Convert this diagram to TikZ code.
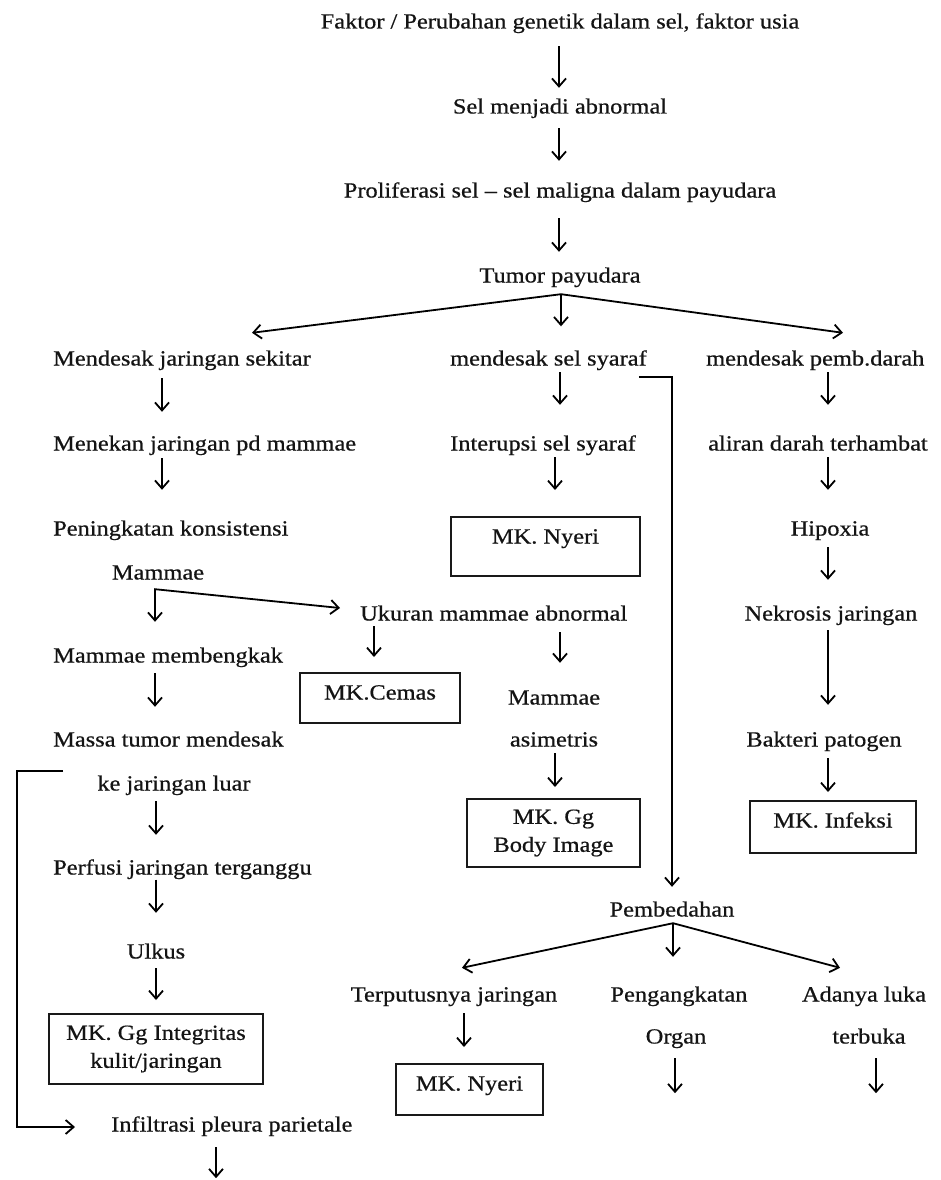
\documentclass[tikz,border=0pt]{standalone}
\usepackage{fontspec}
\setmainfont[FakeStretch=1.13,FakeBold=0.6]{Liberation Serif}
\usetikzlibrary{arrows.meta,calc}
\newcommand{\fsz}{\fontsize{21.6pt}{28pt}\selectfont}
\newcommand{\va}[5]{\draw[arr,shorten <=#4pt,shorten >=#5pt] (#1.south -| #3) -- (#2.north -| #3);}
\begin{document}
\begin{tikzpicture}[x=1pt,y=-1pt,
 txt/.style={inner sep=0pt,text height=14pt,text depth=5pt,font=\fsz,text=black!92},
 box/.style={draw=black!90,line width=2pt,inner sep=0pt,font=\fsz,text=black!92},
 arr/.style={draw=black,line width=1.8pt,-{Straight Barb[length=8pt,width=14pt]}},
 arrboth/.style={draw=black,line width=1.8pt,{Straight Barb[length=8pt,width=14pt]}-{Straight Barb[length=8pt,width=14pt]}},
]
\fill[white] (0,0) rectangle (940,1180);
\useasboundingbox (0,0) rectangle (940,1180);

% column coordinates
\coordinate (xT) at (559,0);
\coordinate (xL) at (162,0);
\coordinate (xL2) at (155,0);
\coordinate (xL3) at (156,0);
\coordinate (xM) at (560,0);
\coordinate (xM2) at (555,0);
\coordinate (xR) at (828,0);
\coordinate (xU) at (374,0);
\coordinate (xS) at (464,0);
\coordinate (xSL) at (252,0);
\coordinate (xSR) at (843,0);

% nodes
\node[txt] (f1) at (560,24) {Faktor / Perubahan genetik dalam sel, faktor usia};
\node[txt] (f2) at (560,109) {Sel menjadi abnormal};
\node[txt] (f3) at (560,193) {Proliferasi sel – sel maligna dalam payudara};
\node[txt] (f4) at (560,278) {Tumor payudara};

\node[txt,anchor=west] (a1) at (53,361) {Mendesak jaringan sekitar};
\node[txt,anchor=west] (b1) at (450,361) {mendesak sel syaraf};
\node[txt,anchor=west] (c1) at (706,361) {mendesak pemb.darah};
\node[txt,anchor=west] (a2) at (53,446) {Menekan jaringan pd mammae};
\node[txt,anchor=west] (b2) at (450,446) {Interupsi sel syaraf};
\node[txt,anchor=west] (c2) at (708,446) {aliran darah terhambat};
\node[txt,anchor=west] (a3) at (53,531) {Peningkatan konsistensi};
\node[box,minimum width=189pt,text height=26.5pt,text depth=32.5pt,anchor=north] (n1) at (545.5,516) {MK. Nyeri};
\node[txt] (c3) at (830,531) {Hipoxia};
\node[txt] (a4) at (158,575) {Mammae};
\node[txt,anchor=west] (b3) at (360,616) {Ukuran mammae abnormal};
\node[txt] (c4) at (831,616) {Nekrosis jaringan};
\node[txt,anchor=west] (a5) at (53,658) {Mammae membengkak};
\node[box,minimum width=160pt,text height=26.5pt,text depth=23.5pt,anchor=north] (n2) at (380,672) {MK.Cemas};
\node[txt] (b4) at (554,700) {Mammae};
\node[txt,anchor=west] (a6) at (53,742) {Massa tumor mendesak};
\node[txt] (b5) at (554,742) {asimetris};
\node[txt] (c5) at (824,742) {Bakteri patogen};
\node[txt] (a7) at (174,786) {ke jaringan luar};
\node[box,align=center,minimum width=173pt,minimum height=68pt,anchor=north] (n3) at (553.5,798) {MK. Gg\\Body Image};
\node[box,minimum width=166pt,text height=26.5pt,text depth=25.5pt,anchor=north] (n5) at (833,800) {MK. Infeksi};
\node[txt,anchor=west] (a8) at (53,870) {Perfusi jaringan terganggu};
\node[txt] (d1) at (672,912) {Pembedahan};
\node[txt] (a9) at (156,954) {Ulkus};
\node[txt] (e1) at (454,997) {Terputusnya jaringan};
\node[txt] (e2) at (679,997) {Pengangkatan};
\node[txt] (e3) at (864,997) {Adanya luka};
\node[box,align=center,minimum width=214pt,minimum height=70pt,anchor=north] (n4) at (156,1013) {MK. Gg Integritas\\kulit/jaringan};
\node[txt] (e2b) at (676,1039) {Organ};
\node[txt] (e3b) at (869,1039) {terbuka};
\node[box,minimum width=147pt,text height=26.5pt,text depth=24.5pt,anchor=north] (n6) at (469.5,1063) {MK. Nyeri};
\node[txt,anchor=west] (a10) at (111,1127) {Infiltrasi pleura parietale};

% top chain
\va{f1}{f2}{xT}{12.5}{11.5}
\va{f2}{f3}{xT}{9.5}{22.5}
\va{f3}{f4}{xT}{15.5}{16.5}

% first split
\coordinate (ap) at ($(f4.south)+(1,6.5)$);
\draw[arr] (ap) -- ($(a1.north -| xSL)+(0,-18.5)$);
\draw[arr,shorten >=25pt] (ap) -- (ap |- b1.north);
\draw[arr] (ap) -- ($(c1.north -| xSR)+(0,-18.5)$);

% columns
\va{a1}{a2}{xL}{7.5}{24.5}
\va{b1}{b2}{xM}{1.5}{31.5}
\va{c1}{c2}{xR}{1.5}{31.5}
\va{a2}{a3}{xL}{2.5}{31.5}
\va{b2}{n1}{xM2}{1.5}{26}
\va{c2}{c3}{xR}{1.5}{31.5}
\va{c3}{c4}{xR}{6.5}{26.5}

% Mammae corner
\coordinate (mc) at ($(a4.south)+(-3,4.5)$);
\draw[arrboth] ($(mc |- a5.north)+(0,-26.5)$) -- (mc) -- ($(b3.west)+(-20,-8)$);

\va{b3}{n2}{xU}{0.5}{15}
\va{b3}{b4}{xM}{6.5}{27.5}
\va{c4}{c5}{xR}{4.5}{27.5}
\va{a5}{a6}{xL2}{5.5}{25.5}
\va{b5}{n3}{xM2}{1.5}{11}
\va{c5}{n5}{xR}{6.5}{8}

% bracket to Infiltrasi
\draw[arr] ($(a6.south west)+(10,19.5)$) -- ++(-46,0) |- ($(a10.west)+(-36,0)$);

\va{a7}{a8}{xL3}{5.5}{25.5}
\va{a8}{a9}{xL3}{0}{31.5}
\va{a9}{n4}{xL3}{4.5}{13}

% long line to Pembedahan
\draw[arr,shorten >=15.5pt] ($(b1.east)+(-8,16)$) -| (d1.north);

% Pembedahan split
\coordinate (ap2) at ($(d1.south)+(1,1.5)$);
\draw[arr] (ap2) -- ($(e1.north)+(8,-19.5)$);
\draw[arr,shorten >=30.5pt] (ap2) -- (ap2 |- e2.north);
\draw[arr] (ap2) -- ($(e3.north)+(-24,-19.5)$);
\va{e1}{n6}{xS}{6.5}{16}

% open-ended arrows
\coordinate (o1) at ($(e2b.south)+(-1,44.5)$);
\draw[arr] ($(e2b.south)+(-1,9.5)$) -- (o1);
\coordinate (o2) at ($(e3b.south)+(7,44.5)$);
\draw[arr] ($(e3b.south)+(7,9.5)$) -- (o2);
\coordinate (o3) at ($(a10.south west)+(105,41.5)$);
\draw[arr] ($(a10.south west)+(105,10.5)$) -- (o3);
\end{tikzpicture}
\end{document}
